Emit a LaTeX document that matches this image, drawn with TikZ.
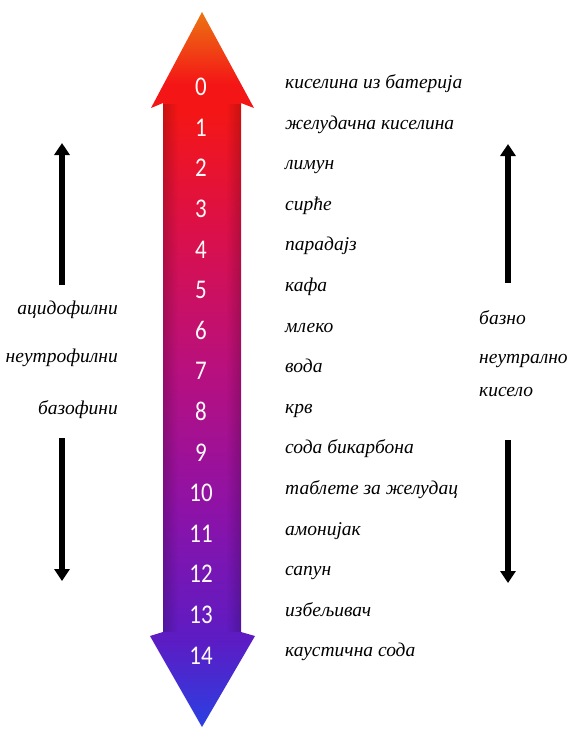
\documentclass[tikz,border=0pt]{standalone}
\usepackage{fontspec}
\newfontfamily\handfont[Script=Cyrillic,Language=Serbian]{Liberation Serif}
\newfontfamily\digitfont{Carlito}
\usetikzlibrary{arrows.meta,fadings}
\definecolor{phorange}{HTML}{EC7412}
\definecolor{phred}{HTML}{F41616}
\definecolor{phcrimson}{HTML}{DC1048}
\definecolor{phmagenta}{HTML}{B8107E}
\definecolor{phpurple}{HTML}{8C12A8}
\definecolor{phviolet}{HTML}{5C1CC4}
\definecolor{phblue}{HTML}{2A40E2}
\pgfdeclareverticalshading{phscale}{100bp}{color(0bp)=(phblue); color(25bp)=(phblue); color(31bp)=(phviolet); color(40bp)=(phpurple); color(50bp)=(phmagenta); color(60bp)=(phcrimson); color(68bp)=(phred); color(70bp)=(phred); color(75bp)=(phorange); color(100bp)=(phorange)}
\tikzset{
  phnum/.style={font=\digitfont\fontsize{27}{27}\selectfont, text=white!92!pink, xscale=.85, inner sep=0pt},
  phlabel/.style={font=\handfont\itshape\fontsize{19.5}{19.5}\selectfont, text height=1.6ex, text depth=.4ex, inner sep=0pt},
  sidearrow/.style={-{Triangle[length=12pt,width=15pt]}, line width=5.5pt, draw=black}
}
\begin{document}
\begin{tikzpicture}[x=1pt, y=-1pt]
  \useasboundingbox (0,0) rectangle (571,729);
  % big pH arrow
  \shade[shading=phscale] (202,12) -- (254,108) -- (241,103) -- (241,632) -- (255,636)
    -- (202,727) -- (150,636) -- (163,632) -- (163,103) -- (151,108) -- cycle;
  \fill[black, opacity=.18, path fading=east] (163,103) rectangle (178,632);
  \fill[black, opacity=.18, path fading=west] (226,103) rectangle (241,632);
  % scale values and examples
  \foreach \n in {0,...,14}
    \node[phnum] (n\n) at (201,{87+40.6*\n}) {\n};
  \foreach \t [count=\i from 0] in {киселина из батерија, желудачна киселина, лимун, сирће,
      парадајз, кафа, млеко, вода, крв, сода бикарбона, таблете за желудац, амонијак,
      сапун, избељивач, каустична сода}
    \node[phlabel, anchor=west] (ex\i) at (285,{86+40.6*\i}) {\t};
  % left side
  \node[phlabel, anchor=east] (acido) at (118,312) {ацидофилни};
  \node[phlabel, anchor=east] (neutro) at (118,360) {неутрофилни};
  \node[phlabel, anchor=east] (bazo) at (118,412) {базофини};
  \coordinate (lup0) at (62,285);
  \coordinate (lup1) at (62,143);
  \coordinate (ldn0) at (62,438);
  \coordinate (ldn1) at (62,581);
  \draw[sidearrow] (lup0) -- (lup1);
  \draw[sidearrow] (ldn0) -- (ldn1);
  % right side
  \node[phlabel, anchor=west] (bazno) at (479,322) {базно};
  \node[phlabel, anchor=west] (neutral) at (479,361) {неутрално};
  \node[phlabel, anchor=west] (kiselo) at (479,394) {кисело};
  \coordinate (rup0) at (508,283);
  \coordinate (rup1) at (508,144);
  \coordinate (rdn0) at (508,440);
  \coordinate (rdn1) at (508,583);
  \draw[sidearrow] (rup0) -- (rup1);
  \draw[sidearrow] (rdn0) -- (rdn1);
\end{tikzpicture}
\end{document}
